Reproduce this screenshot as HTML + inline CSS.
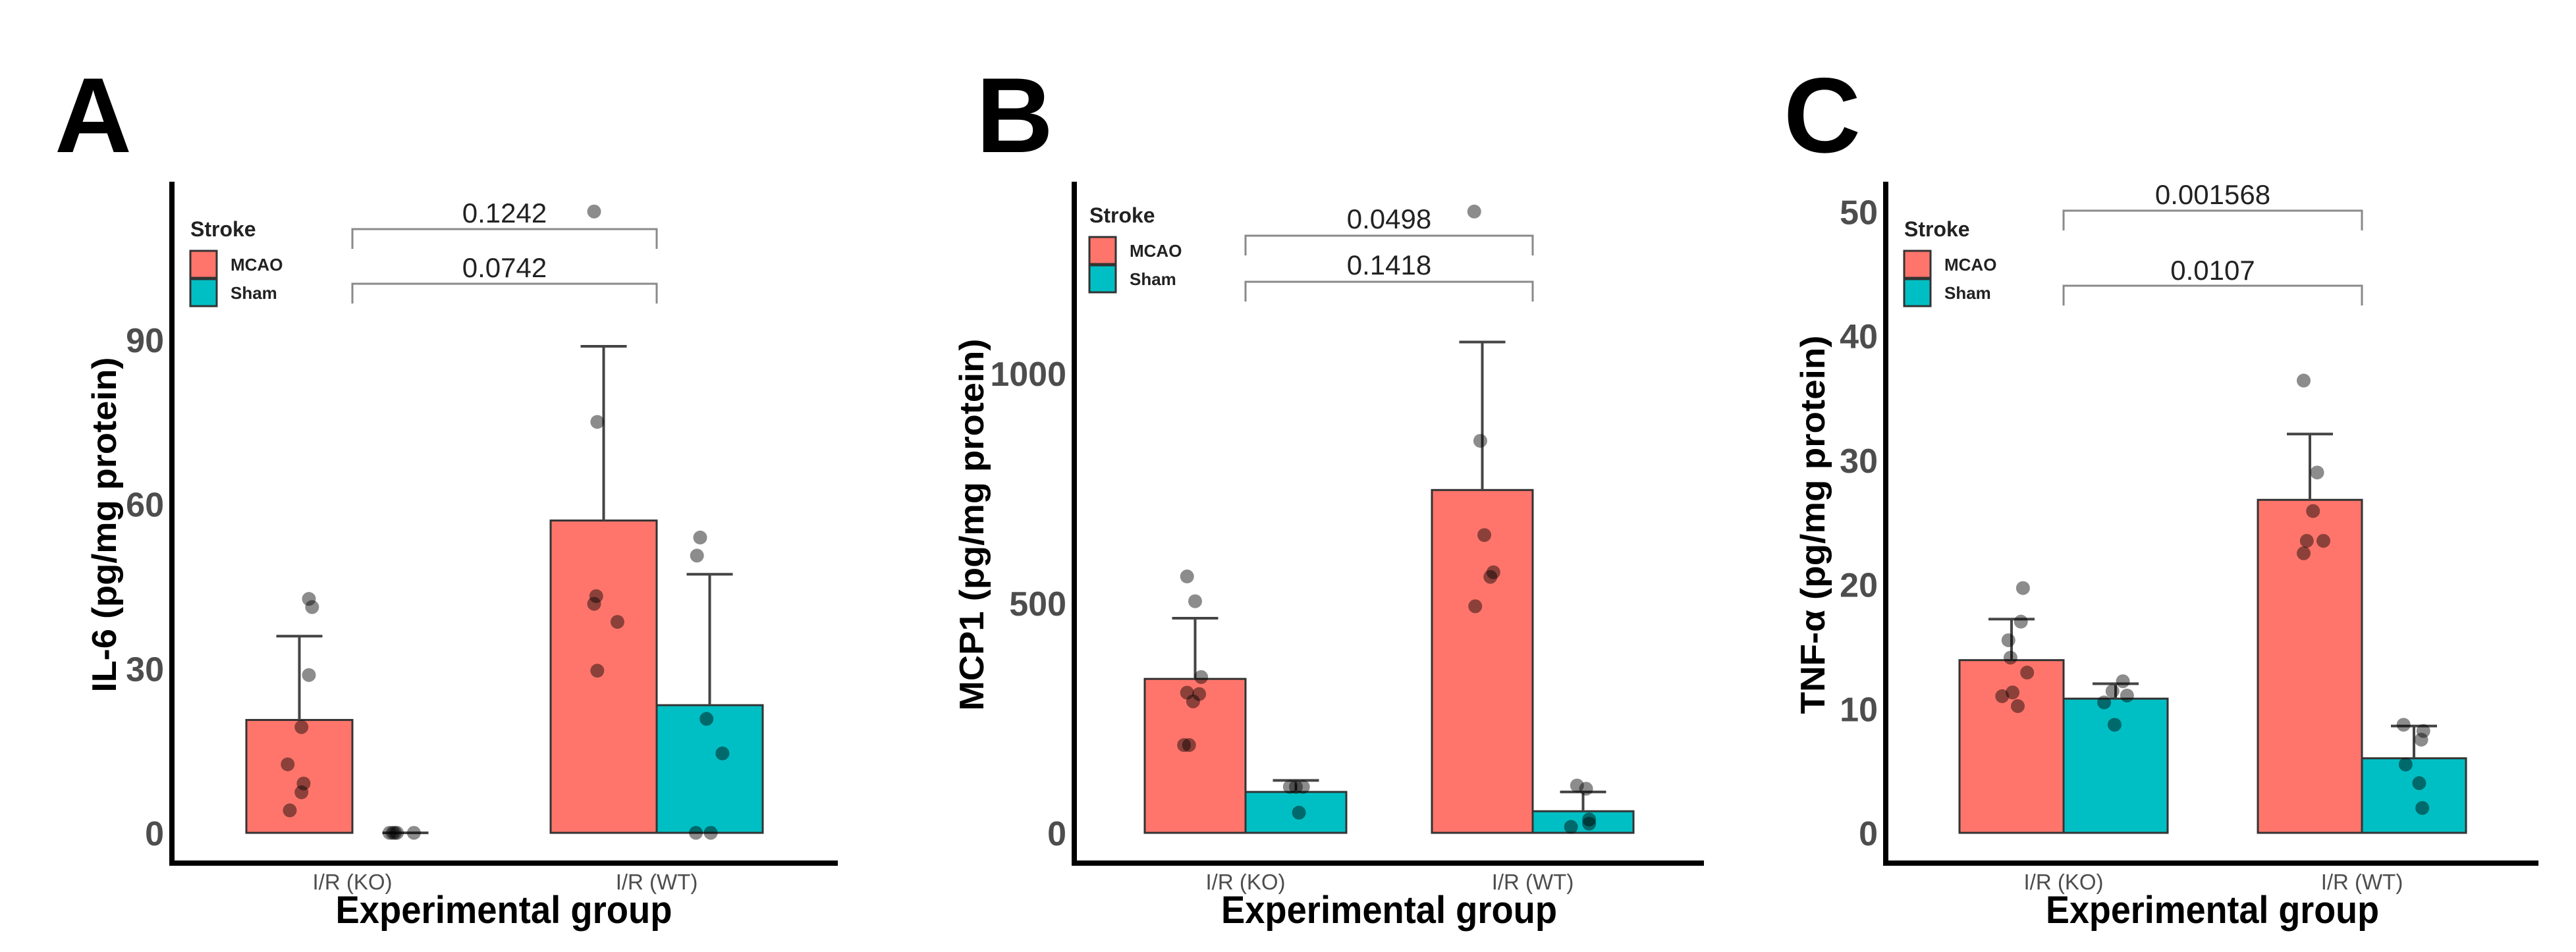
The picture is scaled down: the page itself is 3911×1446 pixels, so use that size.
<!DOCTYPE html>
<html><head><meta charset="utf-8"><style>
html,body{margin:0;padding:0;background:#fff;}
svg{display:block;}
</style></head><body>
<svg id="fig" xmlns="http://www.w3.org/2000/svg" width="3911" height="1446" viewBox="0 0 3911 1446" font-family="Liberation Sans, Arial, sans-serif"></svg>
<script>
// ---- data ----
const groups = ["I/R (KO)", "I/R (WT)"];
const strokeLevels = ["MCAO", "Sham"];

const il6Means = [[20.6, 0], [57.0, 23.3]];
const il6Upper = [[35.9, 0], [88.8, 47.2]];
const il6Points = [[[42.7,41.2,28.8,19.3,12.5,9.0,7.4,4.1],[0,0,0,0,0]],[[113.4,75.0,43.2,41.8,38.5,29.6],[53.9,50.6,20.8,14.5,0,0]]];
const il6Jitter = [[[.09,.12,.09,.02,-.11,.04,.02,-.09],[-.15,-.12,-.1,-.08,.08]],[[-.09,-.06,-.07,-.09,.13,-.06],[-.09,-.12,-.03,.12,-.13,.01]]];
const il6Ticks = [0, 30, 60, 90];
const il6PValues = ["0.1242", "0.0742"];

const mcpMeans = [[335, 89], [746, 47]];
const mcpUpper = [[467, 114], [1068, 89]];
const mcpPoints = [[[558,504,339,305,302,286,191,191],[100,100,100,44]],[[1352,853,648,567,557,493],[103,96,29,13,20]]];
const mcpJitter = [[[-.08,0,.06,-.08,.04,-.02,-.11,-.06],[-.06,0,.07,.03]],[[-.08,-.02,.02,.11,.08,-.07],[-.06,.03,.06,-.12,.06]]];
const mcpTicks = [0, 500, 1000];
const mcpPValues = ["0.0498", "0.1418"];

const tnfMeans = [[13.9, 10.8], [26.8, 6.0]];
const tnfUpper = [[17.2, 12.0], [32.1, 8.6]];
const tnfPoints = [[[19.7,17.0,15.5,14.1,12.9,11.3,11.0,10.2],[12.2,11.4,11.05,10.5,8.7]],[[36.4,29.0,25.9,23.5,23.5,22.5],[8.7,8.2,7.5,5.5,4.0,2.0]]];
const tnfJitter = [[[.11,.09,-.03,-.01,.15,.01,-.09,.06],[.07,-.03,.11,-.11,-.01]],[[-.06,.07,.03,-.03,.13,-.06],[-.1,.09,.07,-.08,.05,.08]]];
const tnfTicks = [0, 10, 20, 30, 40, 50];
const tnfPValues = ["0.001568", "0.0107"];

// ---- layout ----
const colors = ["#FF756B", "#00BFC4"];
const panels = [
  {key:"a", letter:"A", lx:83, axisX:261, axisEnd:1272, y0:1265, yMax:90, yMaxPx:516, centers:[535,997], bw:161,
   means:il6Means, upper:il6Upper, pts:il6Points, jit:il6Jitter, ticks:il6Ticks, pv:il6PValues, title:"IL-6 (pg/mg protein)", tx:158, tLen:509,
   br:[348,431], brLab:[338,421], legX:289, legY:359, xtW:511, xtC:765},
  {key:"b", letter:"B", lx:1482, axisX:1631, axisEnd:2587, y0:1265, yMax:1000, yMaxPx:567, centers:[1891,2327], bw:153,
   means:mcpMeans, upper:mcpUpper, pts:mcpPoints, jit:mcpJitter, ticks:mcpTicks, pv:mcpPValues, title:"MCP1 (pg/mg protein)", tx:1475, tLen:565,
   br:[358,428], brLab:[347,417], legX:1654, legY:338, xtW:510, xtC:2109},
  {key:"c", letter:"C", lx:2708, axisX:2863, axisEnd:3854, y0:1265, yMax:50, yMaxPx:321.4, centers:[3133,3586], bw:158,
   means:tnfMeans, upper:tnfUpper, pts:tnfPoints, jit:tnfJitter, ticks:tnfTicks, pv:tnfPValues, title:"TNF-\u03B1 (pg/mg protein)", tx:2752, tLen:575,
   br:[320,434], brLab:[310,425], legX:2891, legY:359, xtW:506, xtC:3359}
];

const NS = "http://www.w3.org/2000/svg";
const svg = document.getElementById("fig");
function mk(tag, attrs, parent, text){
  const e = document.createElementNS(NS, tag);
  for (const k in attrs) e.setAttribute(k, attrs[k]);
  if (text !== undefined) e.textContent = text;
  (parent || svg).appendChild(e);
  return e;
}

panels.forEach(p => {
  const g = mk("g", {});
  
  
  const yScale = v => p.y0 - (v / p.yMax) * (p.y0 - p.yMaxPx);
  const barX = (gi, si) => p.centers[gi] + (si === 0 ? -p.bw : 0);

  const L = mk("text", {x:p.lx, y:231, "font-size":162, "font-weight":"bold", fill:"#000"}, g, p.letter);
  
  

  p.means.forEach((row, gi) => row.forEach((v, si) => {
    const x = barX(gi, si);
    const y = yScale(v);
    const r = mk("rect", {x:x, y:y, width:p.bw, height:Math.max(p.y0 - y, 0), fill:colors[si], stroke:"#333", "stroke-width":3}, g);
    
    
  }));
  p.upper.forEach((row, gi) => row.forEach((u, si) => {
    const cx = barX(gi, si) + p.bw / 2;
    const yt = yScale(u), yb = yScale(p.means[gi][si]);
    const eg = mk("g", {stroke:"#444", "stroke-width":4, fill:"none"}, g);
    
    
    mk("line", {x1:cx, x2:cx, y1:yt, y2:yb}, eg);
    mk("line", {x1:cx - 35, x2:cx + 35, y1:yt, y2:yt}, eg);
  }));
  p.pts.forEach((row, gi) => row.forEach((arr, si) => arr.forEach((v, k) => {
    const cx = barX(gi, si) + p.bw / 2 + p.jit[gi][si][k] * p.bw;
    const c = mk("circle", {cx:cx, cy:yScale(v), r:10.5, fill:"#000", "fill-opacity":0.45}, g);
    
    
  })));

  const ax = mk("g", {stroke:"#000", "stroke-width":8}, g);
  
  
  mk("line", {x1:p.axisX, x2:p.axisX, y1:276, y2:1315}, ax);
  mk("line", {x1:p.axisX - 4, x2:p.axisEnd, y1:1311, y2:1311}, ax);

  p.ticks.forEach(t => {
    const tl = mk("text", {x:p.axisX - 12, y:yScale(t) + 19, "font-size":52, "font-weight":"bold", fill:"#4D4D4D", "text-anchor":"end"}, g, String(t));
    
    
  });
  groups.forEach((gn, gi) => {
    const xl = mk("text", {x:p.centers[gi], y:1351, "font-size":33, fill:"#4D4D4D", "text-anchor":"middle"}, g, gn);
    
    
  });
  const xt = mk("text", {x:p.xtC, y:1402, "font-size":58, "font-weight":"bold", fill:"#000", "text-anchor":"middle", textLength:p.xtW, lengthAdjust:"spacingAndGlyphs"}, g, "Experimental group");
  
  
  const yt = mk("text", {x:0, y:0, "font-size":52, "font-weight":"bold", fill:"#000", "text-anchor":"middle", textLength:p.tLen, lengthAdjust:"spacingAndGlyphs", transform:"translate(" + (p.tx + 18) + ",797) rotate(-90)"}, g, p.title);
  
  

  p.br.forEach((by, bi) => {
    const bg = mk("g", {stroke:"#8a8a8a", "stroke-width":3, fill:"none"}, g);
    
    
    mk("polyline", {points:[p.centers[0], by + 30, p.centers[0], by, p.centers[1], by, p.centers[1], by + 30].join(" ")}, bg);
    const bl = mk("text", {x:(p.centers[0] + p.centers[1]) / 2, y:p.brLab[bi], "font-size":42, fill:"#222", "text-anchor":"middle"}, g, p.pv[bi]);
    
    
  });

  const lg = mk("g", {}, g);
  
  
  mk("text", {x:p.legX, y:p.legY, "font-size":32, "font-weight":"bold", fill:"#222"}, lg, "Stroke");
  strokeLevels.forEach((s, si) => {
    const top = p.legY + 22 + si * 43;
    const le = mk("g", {}, lg);
    
    
    mk("rect", {x:p.legX, y:top, width:40, height:41, fill:colors[si], stroke:"#333", "stroke-width":3}, le);
    mk("text", {x:p.legX + 61, y:top + 30, "font-size":26, "font-weight":"bold", fill:"#222"}, le, s);
  });
});
</script>
</body></html>
